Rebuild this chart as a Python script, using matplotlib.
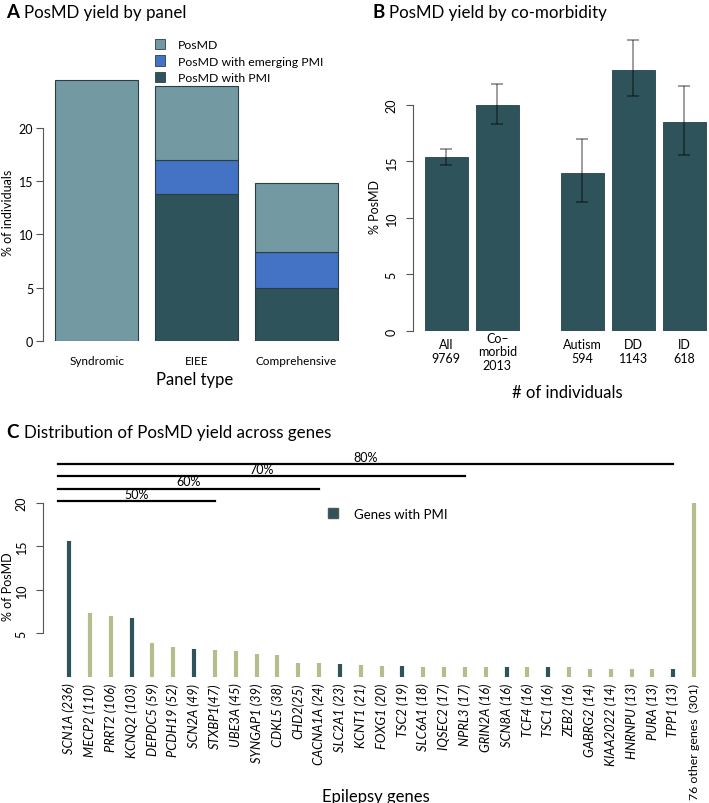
import numpy as np
import matplotlib
matplotlib.use("Agg")
import matplotlib.pyplot as plt
from matplotlib.patches import Patch
from matplotlib.lines import Line2D

plt.rcParams['font.family'] = ['Lato', 'DejaVu Sans']

# Panel A data
panels = ['Syndromic', 'EIEE', 'Comprehensive']
pmi = [0.0, 13.8, 5.0]
emerging = [0.0, 3.2, 3.4]
posmd_rest = [24.5, 6.9, 6.4]

# Panel B data
comorb = ['All\n9769', 'Co\u2013\nmorbid\n2013', 'Autism\n594', 'DD\n1143', 'ID\n618']
comorb_val = [15.4, 20.0, 14.0, 23.1, 18.5]
comorb_lo = [14.7, 18.3, 11.4, 20.8, 15.6]
comorb_hi = [16.1, 21.8, 17.0, 25.7, 21.7]

# Panel C data
genes = ['SCN1A (236)', 'MECP2 (110)', 'PRRT2 (106)', 'KCNQ2 (103)', 'DEPDC5 (59)',
         'PCDH19 (52)', 'SCN2A (49)', 'STXBP1(47)', 'UBE3A (45)', 'SYNGAP1 (39)',
         'CDKL5 (38)', 'CHD2(25)', 'CACNA1A (24)', 'SLC2A1 (23)', 'KCNT1 (21)',
         'FOXG1 (20)', 'TSC2 (19)', 'SLC6A1 (18)', 'IQSEC2 (17)', 'NPRL3 (17)',
         'GRIN2A (16)', 'SCN8A (16)', 'TCF4 (16)', 'TSC1 (16)', 'ZEB2 (16)',
         'GABRG2 (14)', 'KIAA2022 (14)', 'HNRNPU (13)', 'PURA (13)', 'TPP1 (13)',
         '76 other genes  (301)']
gene_pct = [15.6, 7.3, 7.0, 6.8, 3.9, 3.4, 3.2, 3.1, 3.0, 2.6,
            2.5, 1.6, 1.6, 1.5, 1.4, 1.3, 1.3, 1.2, 1.1, 1.1,
            1.1, 1.1, 1.1, 1.1, 1.1, 0.9, 0.9, 0.9, 0.9, 0.9, 19.9]
pmi_genes = ['SCN1A (236)', 'KCNQ2 (103)', 'SCN2A (49)', 'SLC2A1 (23)',
             'TSC2 (19)', 'SCN8A (16)', 'TSC1 (16)', 'TPP1 (13)']
cum_labels = ['50%', '60%', '70%', '80%']
cum_end = ['STXBP1(47)', 'CACNA1A (24)', 'NPRL3 (17)', 'TPP1 (13)']
cum_level = [20.2, 21.6, 23.0, 24.4]

c_light = '#7399A3'
c_blue = '#4472C4'
c_dark = '#2F535B'
c_olive = '#B5BD8C'
edge = '#2a3f44'

fig = plt.figure(figsize=(7.09, 8.04), dpi=100)
W, H = 709, 804


def px_axes(l, t, r, b):
    return fig.add_axes([l / W, 1 - b / H, (r - l) / W, (b - t) / H])


# ---------- Panel A ----------
axA = px_axes(43, 75, 346.5, 342)
xa = 0.7 + 1.2 * np.arange(len(panels))
axA.bar(xa, pmi, width=1, color=c_dark, edgecolor=edge, linewidth=0.8)
axA.bar(xa, emerging, width=1, bottom=pmi, color=c_blue, edgecolor=edge, linewidth=0.8)
axA.bar(xa, posmd_rest, width=1, bottom=np.add(pmi, emerging), color=c_light,
        edgecolor=edge, linewidth=0.8)
axA.set_xlim(0.056, 3.7)
axA.set_ylim(0, 25.07)
for s in ['top', 'right', 'bottom']:
    axA.spines[s].set_visible(False)
axA.spines['left'].set_bounds(0, 20)
axA.spines['left'].set_color('#555555')
axA.set_yticks([0, 5, 10, 15, 20])
axA.tick_params(axis='y', labelsize=9, length=5, color='#555555', pad=2)
axA.set_xticks(xa)
axA.set_xticklabels(panels, fontsize=8.5)
axA.tick_params(axis='x', length=0, pad=10)
axA.set_xlabel('Panel type', fontsize=12, labelpad=4)
axA.set_ylabel('% of individuals', fontsize=9)
axA.yaxis.set_label_coords(-0.094, 0.483)
handles = [Patch(facecolor=c_light, edgecolor=edge, linewidth=0.6),
           Patch(facecolor=c_blue, edgecolor=edge, linewidth=0.6),
           Patch(facecolor=c_dark, edgecolor=edge, linewidth=0.6)]
fig.legend(handles, ['PosMD', 'PosMD with emerging PMI', 'PosMD with PMI'],
           loc='upper left', bbox_to_anchor=(150 / W, 1 - 35 / H), frameon=False,
           fontsize=8.8, handlelength=0.85, handleheight=0.95, handletextpad=1.0,
           labelspacing=0.4, borderaxespad=0)
fig.text(6 / W, 1 - 13 / H, 'A', fontsize=13.5, fontweight='bold', va='center')
fig.text(24 / W, 1 - 13 / H, 'PosMD yield by panel', fontsize=12.2, va='center')

# ---------- Panel B ----------
axB = px_axes(413, 30, 709, 332)
gaps = np.array([0, 0, 0.8, 0.8, 0.8])
xb = 0.7 + 1.2 * np.arange(len(comorb)) + gaps
axB.bar(xb, comorb_val, width=1, color=c_dark, edgecolor='#24424a', linewidth=0.6)
err = [np.subtract(comorb_val, comorb_lo), np.subtract(comorb_hi, comorb_val)]
axB.errorbar(xb, comorb_val, yerr=err, fmt='none', ecolor=(0, 0, 0, 0.45),
             elinewidth=1.2, capsize=4, capthick=1.2)
axB.set_xlim(-0.082, 6.88)
axB.set_ylim(0, 26.7)
for s in ['top', 'right', 'bottom']:
    axB.spines[s].set_visible(False)
axB.spines['left'].set_bounds(0, 20)
axB.spines['left'].set_color('#555555')
axB.set_yticks([0, 5, 10, 15, 20])
axB.set_yticklabels(['0', '5', '10', '15', '20'], rotation=90, va='center')
axB.tick_params(axis='y', labelsize=9, length=5, color='#555555', pad=6)
axB.set_xticks(xb)
axB.set_xticklabels(comorb, fontsize=9, linespacing=1.15)
for lab in axB.get_xticklabels():
    lab.set_va('center')
axB.tick_params(axis='x', length=0, pad=14.5)
axB.set_xlabel('# of individuals', fontsize=12, labelpad=0)
axB.xaxis.set_label_coords(0.52, -0.175)
axB.set_ylabel('% PosMD', fontsize=9)
axB.yaxis.set_label_coords(-0.108, 0.414)
fig.text(373 / W, 1 - 13 / H, 'B', fontsize=13.5, fontweight='bold', va='center')
fig.text(389 / W, 1 - 13 / H, 'PosMD yield by co-morbidity', fontsize=12.2, va='center')

# ---------- Panel C ----------
axC = px_axes(43, 460, 709, 678)
xc = np.arange(len(genes))
colors = [c_dark if g in pmi_genes else c_olive for g in genes]
axC.vlines(xc, 0, gene_pct, colors=colors, linewidth=3)
axC.set_xlim(-1.25, 30.72)
axC.set_ylim(0, 25)
for s in ['top', 'right', 'bottom']:
    axC.spines[s].set_visible(False)
axC.spines['left'].set_bounds(5, 20)
axC.spines['left'].set_color('#555555')
axC.set_yticks([5, 10, 15, 20])
axC.set_yticklabels(['5', '10', '15', '20'], rotation=90, va='center')
axC.tick_params(axis='y', labelsize=9, length=5, color='#555555', pad=6)
axC.set_xticks(xc)
axC.set_xticklabels(genes, rotation=90, fontsize=9.3)
ticklabs = axC.get_xticklabels()
for lab in ticklabs[:-1]:
    lab.set_style('italic')
ticklabs[-1].set_fontsize(8.9)
axC.tick_params(axis='x', length=0, pad=4)
axC.set_ylabel('% of PosMD', fontsize=9)
axC.yaxis.set_label_coords(-0.043, 0.42)
axC.set_xlabel('Epilepsy genes', fontsize=12)
axC.xaxis.set_label_coords(0.5, -0.51)
for lab, end, lev in zip(cum_labels, cum_end, cum_level):
    xe = genes.index(end)
    axC.plot([-0.53, xe], [lev, lev], color='black', linewidth=1.6, clip_on=False)
    axC.text((-0.53 + xe) / 2, lev + 0.15, lab, ha='center', va='bottom', fontsize=9)
axC.legend([Line2D([], [], marker='s', linestyle='none', markersize=7,
                   markerfacecolor=c_dark, markeredgecolor='#555555')],
           ['Genes with PMI'], loc='upper left', bbox_to_anchor=(0.408, 0.8),
           frameon=False, fontsize=9.5, handletextpad=0.6, borderaxespad=0)
fig.text(6 / W, 1 - 433 / H, 'C', fontsize=13.5, fontweight='bold', va='center')
fig.text(24 / W, 1 - 433 / H, 'Distribution of PosMD yield across genes', fontsize=12.2,
         va='center')

fig.savefig('out.png', dpi=100)
